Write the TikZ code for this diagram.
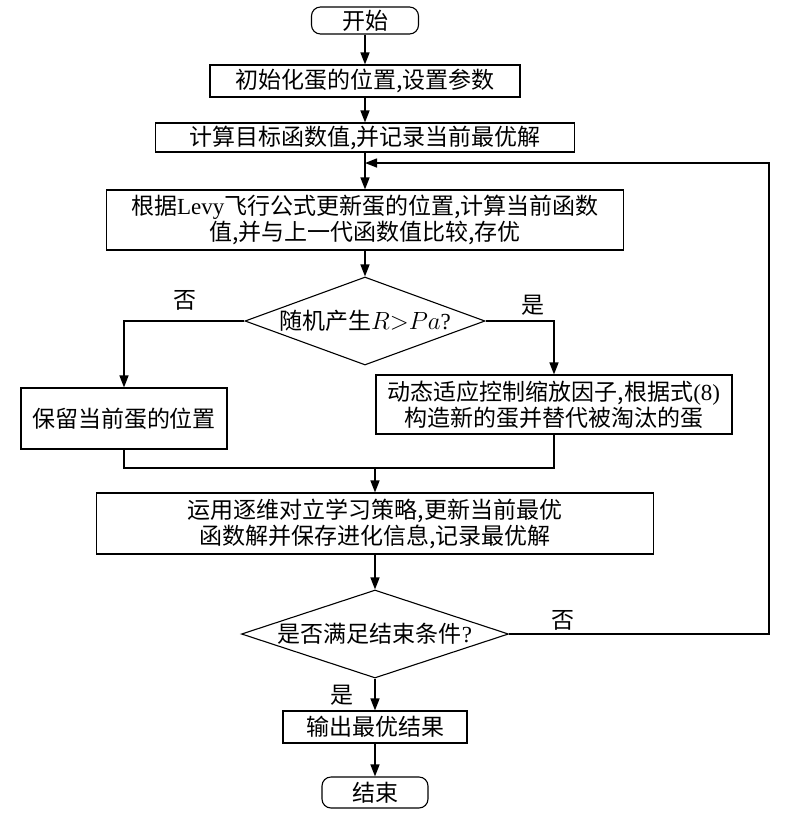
\documentclass[tikz,border=0pt]{standalone}
\usepackage{fontspec}
\setmainfont{Noto Sans CJK SC}
\newfontfamily\latin{Liberation Serif}
\usetikzlibrary{arrows.meta,shapes.geometric}

\begin{document}
\begin{tikzpicture}[x=1pt,y=-1pt,font=\fontsize{23}{26}\selectfont,
	box/.style={draw,line width=1.1pt,inner sep=0pt,align=center},
	term/.style={draw,line width=1.1pt,inner sep=0pt,rounded corners=9pt},
	test/.style={draw,diamond,line width=1.1pt,inner xsep=-4pt,inner ysep=-2pt,aspect=3},
	arr/.style={line width=1.4pt,-{Triangle[length=12pt,width=9pt]}},
	line/.style={line width=1.4pt}]
		\useasboundingbox (0,0) rectangle (796,820);

		\node[term,minimum width=107pt,minimum height=27pt] (start) at (365,20.5) {开始};
		\node[box,minimum width=310pt,minimum height=32pt] (init) at (365,81) {初始化蛋的位置,设置参数};
		\node[box,minimum width=419pt,minimum height=29pt] (calc) at (365,137.5) {计算目标函数值,并记录当前最优解};
		\node[box,minimum width=517pt,minimum height=60pt] (levy) at (365,220) {根据{\latin Levy}飞行公式更新蛋的位置,计算当前函数\\值,并与上一代函数值比较,存优};
		\node[test,minimum width=240pt,minimum height=88pt] (dec1) at (365,321) {随机产生$R{>}Pa${\latin ?}};
		\node[box,minimum width=206pt,minimum height=61pt] (keep) at (124,418.5) {保留当前蛋的位置};
		\node[box,minimum width=356pt,minimum height=59pt] (update) at (554,404.5) {动态适应控制缩放因子,根据式{\latin (8)}\\构造新的蛋并替代被淘汰的蛋};
		\node[box,minimum width=557pt,minimum height=61pt] (obl) at (375,523.5) {运用逐维对立学习策略,更新当前最优\\函数解并保存进化信息,记录最优解};
		\node[test,minimum width=267pt,minimum height=88pt] (dec2) at (375,634) {是否满足结束条件{\latin ?}};
		\node[box,minimum width=184pt,minimum height=32pt] (out) at (375,727) {输出最优结果};
		\node[term,minimum width=106pt,minimum height=31pt] (end) at (375,792.5) {结束};

		\node (no1) at (185,300) {否};
		\node (yes1) at (533,305) {是};
		\node (no2) at (563,620) {否};
		\node (yes2) at (342,695) {是};

		\coordinate (join) at (375,468);
		\coordinate (back) at (365,163);
		\coordinate (far) at (769,634);

		\draw[arr] (start) -- (init);
		\draw[arr] (init) -- (calc);
		\draw[arr] (calc) -- (levy);
		\draw[arr] (levy) -- (dec1);
		\draw[arr] (dec1.west) -| (keep.north);
		\draw[arr] (dec1.east) -| (update.north);
		\draw[line] (keep.south) |- (join);
		\draw[line] (update.south) |- (join);
		\draw[arr] (join) -- (obl);
		\draw[arr] (obl) -- (dec2);
		\draw[arr] (dec2) -- (out);
		\draw[arr] (out) -- (end);
		\draw[arr] (dec2.east) -- (far) |- (back);

	\end{tikzpicture}
\end{document}
